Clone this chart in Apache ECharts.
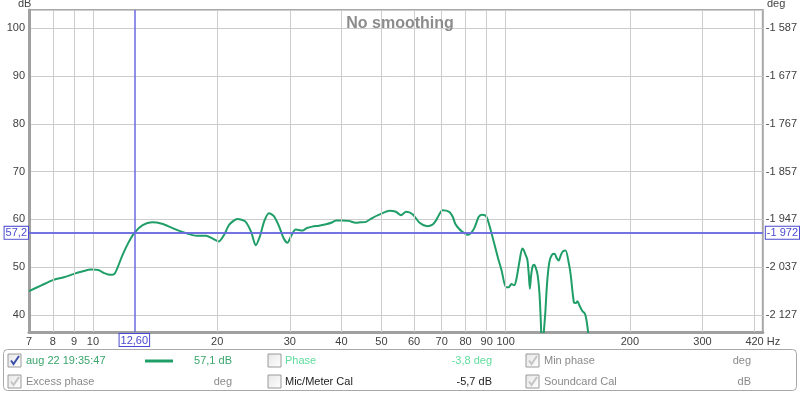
<!DOCTYPE html>
<html>
<head>
<meta charset="utf-8">
<script src="https://cdn.jsdelivr.net/npm/echarts@6/dist/echarts.min.js"></script>
<style>html,body{margin:0;padding:0;background:#fff}#c{width:800px;height:393px}</style>
</head>
<body>
<div id="c"></div>
<script>
// ---- data ----
const freqs = [7.0,7.5,8.0,8.5,9.0,9.5,9.9,10.3,10.7,11.0,11.3,11.8,12.2,12.6,13.2,13.9,14.7,15.5,16.2,17.0,17.8,18.8,19.5,20.2,20.8,21.4,22.4,23.4,24.2,24.8,25.4,26.0,26.7,27.5,28.3,29.0,29.6,30.2,31.0,32.2,33.0,34.0,35.3,36.7,37.8,38.8,40.0,41.7,43.3,44.5,45.9,47.5,49.4,52.3,54.2,55.8,57.4,59.5,61.9,64.6,66.5,67.7,69.0,70.3,73.0,74.5,75.5,77.0,78.6,81.0,82.5,84.2,86.0,87.6,89.0,90.2,92.0,93.9,95.8,97.8,100.2,101.8,103.3,104.9,106.2,107.8,109.7,110.6,111.8,112.9,113.8,114.5,115.3,116.3,117.3,118.4,119.6,120.8,121.8,122.7,123.7,124.8,126.0,127.6,129.5,131.4,133.0,134.5,136.3,138.0,139.8,142.3,143.7,146.4,148.0,149.3,151.0,153.3,155.8,157.3,159.2];
const dbs = [45.0,46.2,47.3,47.9,48.6,49.2,49.5,49.4,48.7,48.4,48.7,52.6,55.2,57.2,58.8,59.4,59.1,58.3,57.6,57.0,56.6,56.6,56.0,55.4,56.8,58.9,60.1,59.6,57.3,54.6,56.5,59.6,61.3,60.6,58.4,56.0,55.1,56.5,57.9,57.7,58.2,58.5,58.7,59.0,59.3,59.8,59.8,59.7,59.3,59.4,59.5,60.3,61.0,61.8,61.6,60.9,61.6,61.1,59.3,58.6,58.9,59.7,61.0,61.9,61.6,60.5,59.1,58.1,57.4,56.8,57.2,58.4,60.5,61.0,60.9,60.3,57.8,54.9,52.0,49.3,45.8,45.8,46.5,46.2,47.5,50.7,53.9,53.6,52.6,51.6,48.5,45.5,48.3,50.2,50.5,49.8,48.3,44.5,38.0,30.0,36.0,40.5,46.5,51.0,52.6,52.8,51.9,51.4,52.7,53.4,53.5,50.8,48.6,42.6,42.5,42.9,42.0,40.9,40.2,38.5,35.0];
const xTickLabels = [7,8,9,10,20,30,40,50,60,70,80,90,100,200,300,420];
const xGridValues = [8,9,10,20,30,40,50,60,70,80,90,100,200,300,400];
const yTicks = [40,50,60,70,80,90,100];
const degLabels = ['-2 127','-2 037','-1 947','-1 857','-1 767','-1 677','-1 587'];
const cursorFreq = 12.6, cursorDb = 57.2;
const cursorFreqLabel = '12,60', cursorDbLabel = '57,2', cursorDegLabel = '-1 972';

const FONT = '"Liberation Sans", Arial, sans-serif';
const BLUE = '#6a6ae0';
const GREEN = '#1f9e68';

const gridSet = new Set(xGridValues);
const allX = Array.from(new Set([...xGridValues, ...xTickLabels])).sort((a,b)=>a-b);
const gridLineData = allX.map(v => ({
  xAxis: v,
  lineStyle: { color: gridSet.has(v) ? '#cccccc' : 'rgba(0,0,0,0)', width: 1, type: 'solid' },
  label: {
    show: xTickLabels.includes(v),
    formatter: v === 420 ? '420 Hz' : String(v)
  }
}));

const chart = echarts.init(document.getElementById('c'), null, { renderer: 'canvas' });

function checkbox(x, y, checked, markColor) {
  const els = [{
    type: 'rect', shape: { x: x, y: y, width: 13, height: 13 },
    style: { fill: new echarts.graphic.LinearGradient(0,0,1,1,[{offset:0,color:'#e6e6e6'},{offset:1,color:'#ffffff'}]), stroke: '#9a9a9a', lineWidth: 1 }
  }];
  if (checked) {
    els.push({ type: 'polyline', shape: { points: [[x+3,y+6.5],[x+5.5,y+10],[x+11,y+2]] },
      style: { stroke: markColor, lineWidth: 2, fill: null } });
  }
  return els;
}
function txt(x, y, s, color, align, weight) {
  return { type: 'text', x: x, y: y, style: { text: s, fill: color, font: (weight||'normal') + ' 11px ' + FONT, textAlign: align || 'left', textVerticalAlign: 'middle' } };
}

const r1 = 361, r2 = 382;
const legendEls = [
  { type: 'rect', shape: { x: 3.5, y: 349.5, width: 793, height: 41, r: 4 }, style: { fill: '#fff', stroke: '#a8a8a8', lineWidth: 1 } },
  ...checkbox(8, r1-7, true, '#3c4fa8'),
  txt(26, r1, 'aug 22 19:35:47', '#3aa56c'),
  { type: 'line', shape: { x1: 145, y1: r1, x2: 173, y2: r1 }, style: { stroke: GREEN, lineWidth: 3 } },
  txt(232, r1, '57,1 dB', '#3aa56c', 'right'),
  ...checkbox(268, r1-7, false),
  txt(285, r1, 'Phase', '#5fdc9c'),
  txt(492, r1, '-3,8 deg', '#5fdc9c', 'right'),
  ...checkbox(526, r1-7, true, '#c4c4c4'),
  txt(544, r1, 'Min phase', '#8a8a8a'),
  txt(751, r1, 'deg', '#8a8a8a', 'right'),
  ...checkbox(8, r2-7, true, '#c4c4c4'),
  txt(26, r2, 'Excess phase', '#8a8a8a'),
  txt(232, r2, 'deg', '#8a8a8a', 'right'),
  ...checkbox(268, r2-7, false),
  txt(285, r2, 'Mic/Meter Cal', '#222'),
  txt(492, r2, '-5,7 dB', '#222', 'right'),
  ...checkbox(526, r2-7, true, '#c4c4c4'),
  txt(544, r2, 'Soundcard Cal', '#8a8a8a'),
  txt(751, r2, 'dB', '#8a8a8a', 'right'),
  txt(18, 4, 'dB', '#444'),
  txt(767, 4, 'deg', '#444')
];

const yMin = 36.44, yMax = 103.84;

chart.setOption({
  animation: false,
  backgroundColor: '#fff',
  title: {
    text: 'No smoothing', left: 'center', top: 11,
    textStyle: { fontFamily: FONT, fontSize: 16, fontWeight: 'bold', color: '#8c8c8c' }
  },
  grid: { left: 29, right: 36, top: 10, height: 322, show: true, borderColor: '#a8a8a8', borderWidth: 2, backgroundColor: '#fff' },
  xAxis: {
    type: 'log', logBase: 10, min: 7, max: 420,
    axisLine: { show: true, lineStyle: { color: '#a0a0a0', width: 3 } },
    axisTick: { show: false }, axisLabel: { show: false }, splitLine: { show: false }, minorSplitLine: { show: false }
  },
  yAxis: [{
    type: 'value', min: yMin, max: yMax, splitNumber: 7,
    axisLine: { show: true, lineStyle: { color: '#a0a0a0', width: 3 } },
    axisTick: { show: false },
    axisLabel: { showMinLabel: false, showMaxLabel: false, margin: 4, fontFamily: FONT, fontSize: 11, color: '#404040',
      formatter: v => yTicks.includes(Math.round(v)) ? String(Math.round(v)) : '' },
    splitLine: { show: true, lineStyle: { color: '#cccccc', width: 1 } }
  }, {
    type: 'value', min: yMin, max: yMax, splitNumber: 7, position: 'right',
    axisLine: { show: false }, axisTick: { show: false }, splitLine: { show: false },
    axisLabel: { showMinLabel: false, showMaxLabel: false, margin: 3, fontFamily: FONT, fontSize: 11, color: '#404040',
      formatter: v => { const i = yTicks.indexOf(Math.round(v)); return i >= 0 ? degLabels[i] : ''; } }
  }],
  graphic: legendEls,
  series: [{
    name: 'grid', type: 'line', data: [], z: 1, silent: true,
    markLine: {
      silent: true, symbol: ['none','none'], animation: false,
      label: { position: 'start', distance: 4, fontFamily: FONT, fontSize: 11, color: '#404040' },
      emphasis: { disabled: true },
      data: gridLineData
    }
  }, {
    name: 'cursor', type: 'line', data: [], z: 2, silent: true,
    markLine: {
      silent: true, symbol: ['none','none'], animation: false,
      lineStyle: { color: BLUE, width: 1.5, type: 'solid' },
      label: { fontFamily: FONT, fontSize: 11, color: '#4a4ad0', backgroundColor: '#fff', borderColor: '#4a4ad0', borderWidth: 1, padding: [1,1,0,1], distance: 2 },
      emphasis: { disabled: true },
      data: [
        { xAxis: cursorFreq, label: { position: 'start', formatter: cursorFreqLabel, distance: 2 } },
        { yAxis: cursorDb, label: { position: 'start', formatter: cursorDbLabel, distance: 1 } },
        { yAxis: cursorDb, label: { position: 'end', formatter: cursorDegLabel, distance: 3 } }
      ]
    }
  }, {
    name: 'aug 22 19:35:47', type: 'line', z: 3,
    data: freqs.map((f, i) => [f, dbs[i]]),
    showSymbol: false, smooth: 0.25, clip: true,
    lineStyle: { color: GREEN, width: 2 }
  }]
});
</script>
</body>
</html>
